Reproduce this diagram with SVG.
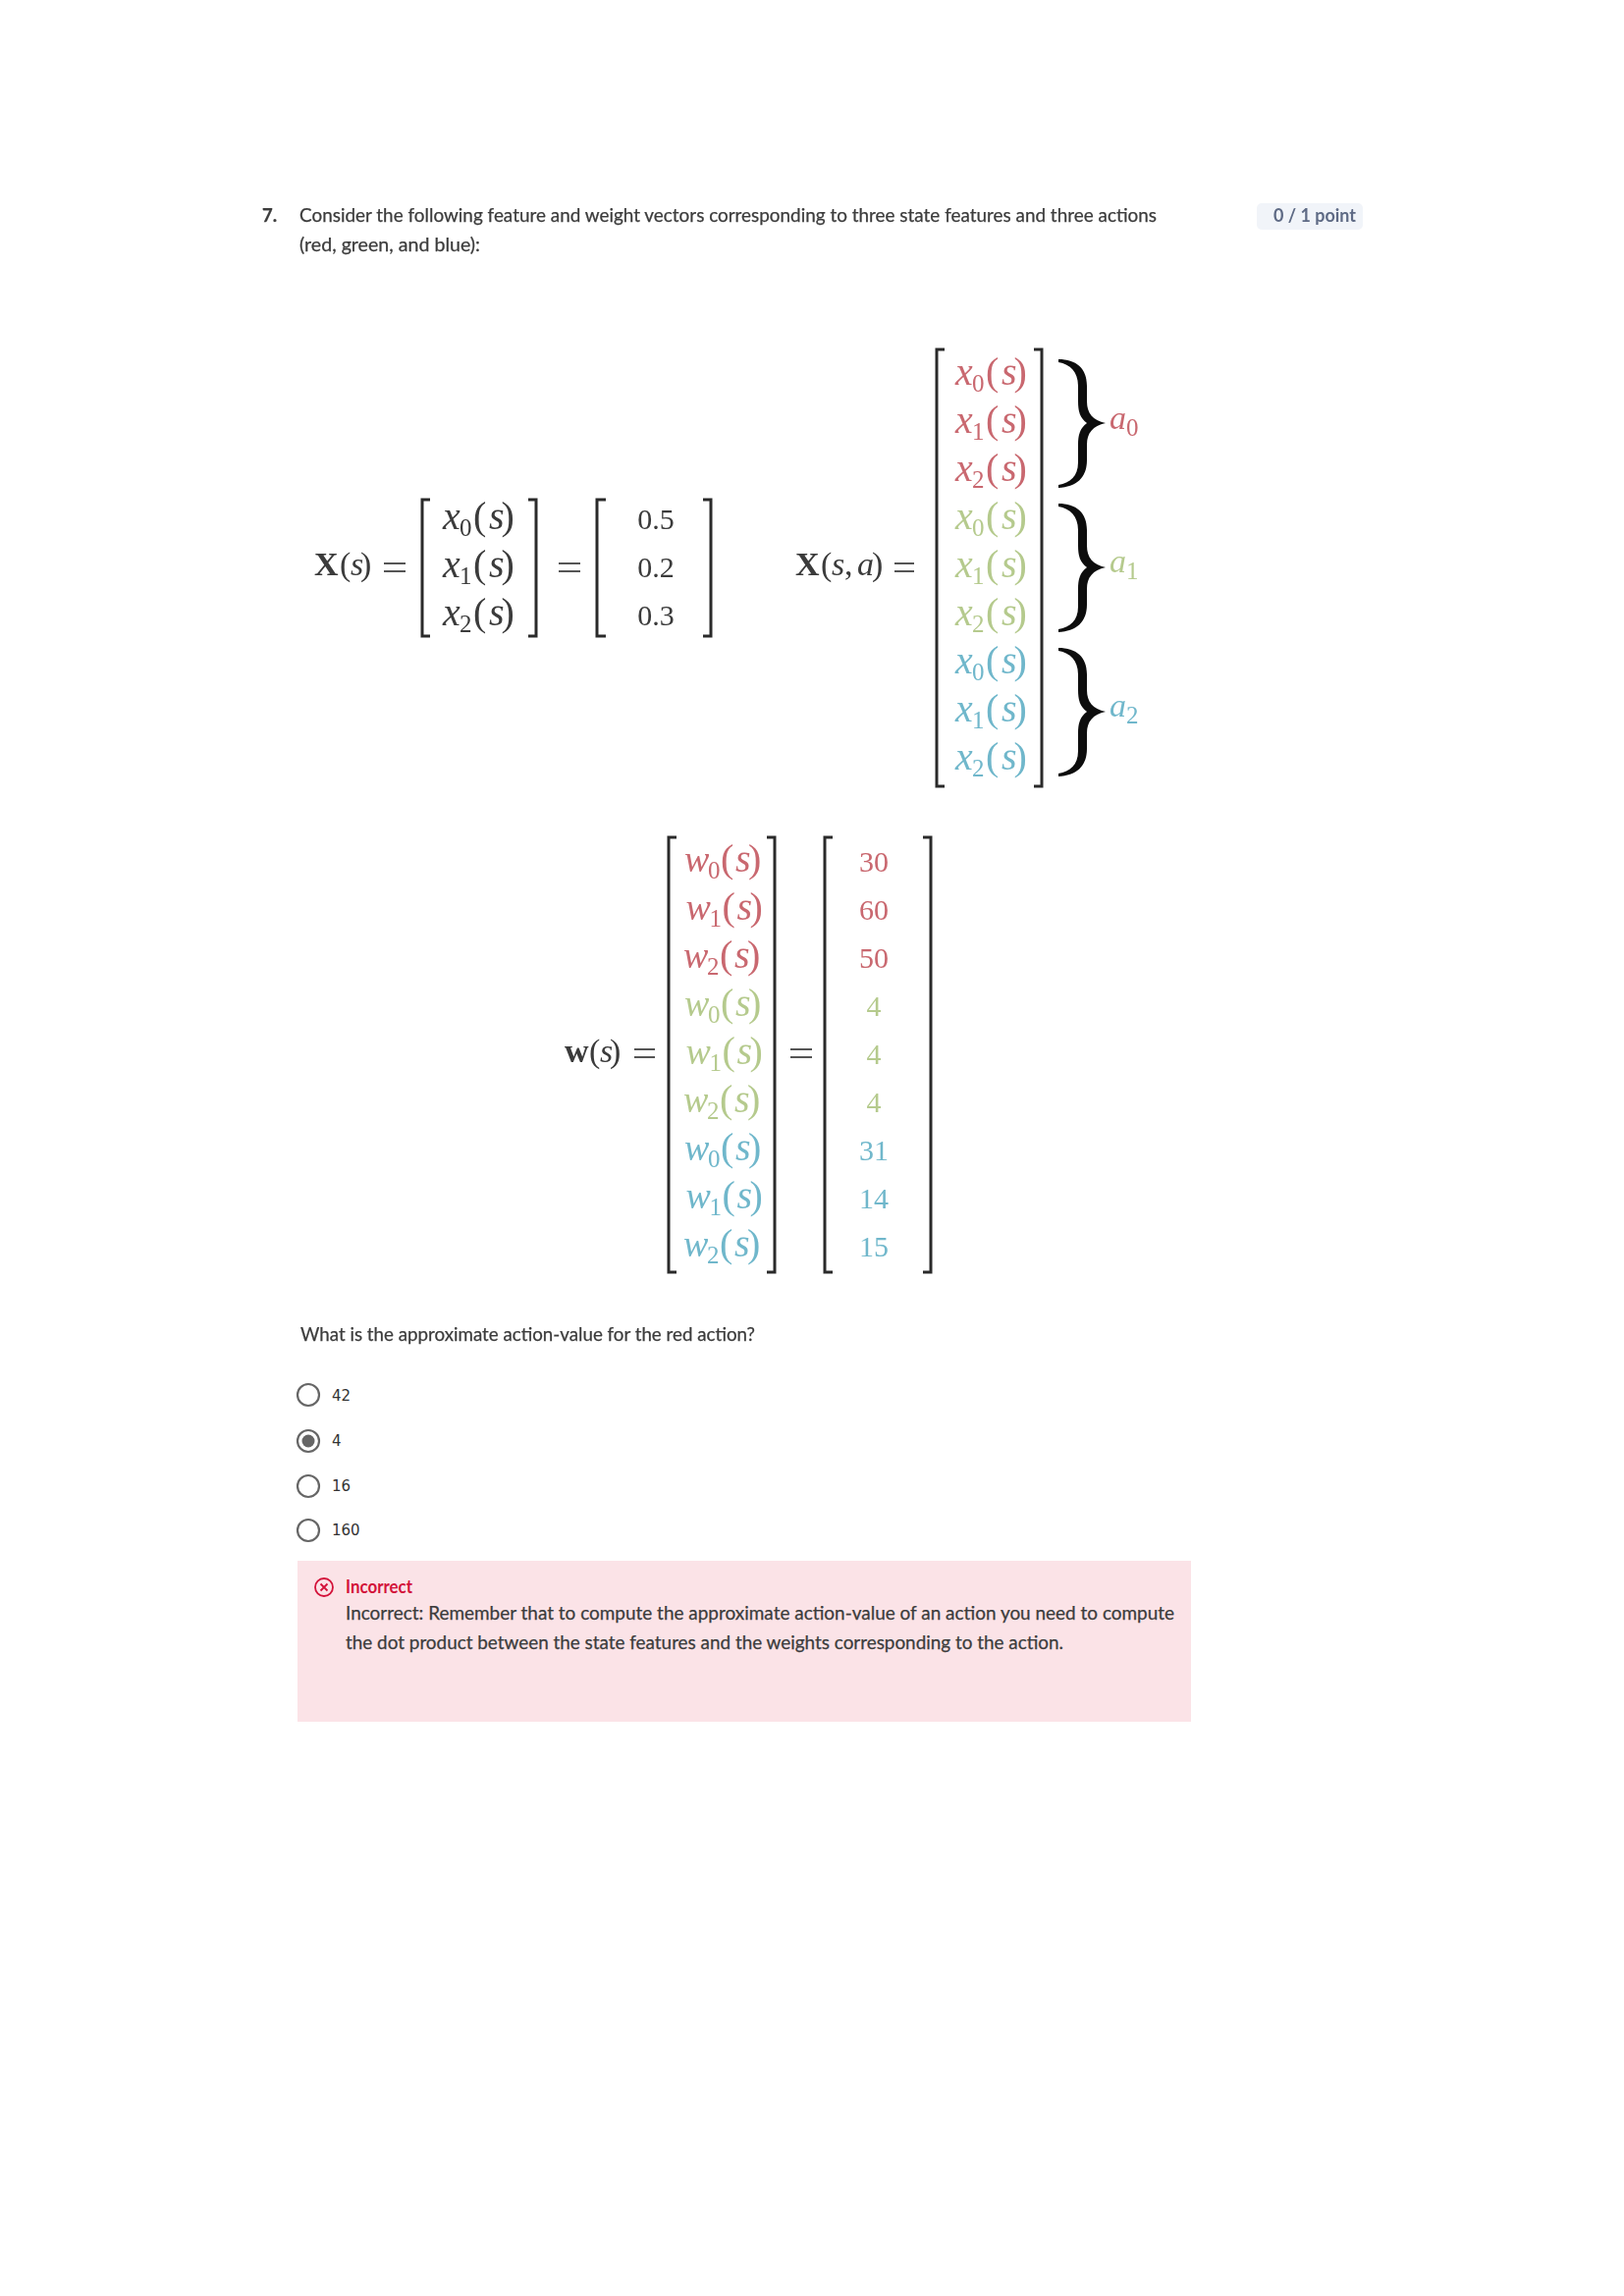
<svg xmlns="http://www.w3.org/2000/svg" width="1654" height="2339" viewBox="0 0 1654 2339">
<style>
.t{font-family:"Lato","Noto Sans",sans-serif;font-size:18.5px;fill:#3c3c3c;stroke:#3c3c3c;stroke-width:.25}
.o{font-family:"DejaVu Sans",sans-serif;font-size:15px;fill:#333}
.m{font-family:"Liberation Serif",serif;font-size:34px;fill:#3a3a3a}
.n{font-family:"Liberation Serif",serif;font-size:30px;text-anchor:middle}
.r{font-family:"Liberation Serif",serif;font-size:40px}
.i{font-style:italic}
.w{font-style:italic;font-size:38px}
.b{font-size:25px}
.bd{font-weight:bold}
.red{fill:#c9686f}.grn{fill:#b5ca8d}.blu{fill:#6fb7cb}.blk{fill:#3a3a3a}
.k{fill:none;stroke:#2b2b2b;stroke-width:3}
.eq{stroke:#555;stroke-width:2;fill:none}
.rad{fill:#fff;stroke:#666;stroke-width:2.2}
</style>
<defs>
<filter id="soft" x="-5%" y="-5%" width="110%" height="110%"><feGaussianBlur stdDeviation="0.5"/></filter>
<path id="brace" d="M0 0C18 0 29 9 29 27V43C29 55 35 62 48 65C35 68 29 75 29 87V103C29 121 18 130 0 131V128C12 126 20 119 20 105V87C20 77 22 70 29 65C22 60 20 53 20 43V27C20 13 12 5 0 3Z" fill="#111"/>
</defs>
<rect width="1654" height="2339" fill="#fff"/>
<g id="question" filter="url(#soft)">
<text class="t" x="267" y="226" style="font-weight:700">7.</text>
<text class="t" x="305" y="226" textLength="873" lengthAdjust="spacingAndGlyphs">Consider the following feature and weight vectors corresponding to three state features and three actions</text>
<text class="t" x="305" y="256" textLength="184" lengthAdjust="spacingAndGlyphs">(red, green, and blue):</text>
</g>
<g id="badge">
<rect x="1285" y="207" width="108" height="27" rx="5" fill="#f1f4f9" transform="translate(-5 0)"/>
<text class="t" x="1297" y="226" textLength="84" lengthAdjust="spacingAndGlyphs" style="fill:#5e6b85;stroke:none;font-weight:700" filter="url(#soft)">0 / 1 point</text>
</g>
<g id="eq-xs" filter="url(#soft)">
<text class="m"><tspan class="bd" x="320" y="586">X</tspan><tspan x="346">(</tspan><tspan class="i" x="357">s</tspan><tspan x="367">)</tspan></text>
<path class="eq" d="M391 574H413M391 582H413M569 574H591M569 582H591"/>
<path class="k" d="M438 509H430V648H438M538 509H546V648H538M617 509H608V648H617M716 509H724V648H716"/>
<g class="r blk">
<text y="539"><tspan class="i" x="451">x</tspan><tspan class="b" x="468" dy="7">0</tspan><tspan x="482" dy="-7">(</tspan><tspan class="i" x="498">s</tspan><tspan x="510.5">)</tspan></text>
<text y="588"><tspan class="i" x="451">x</tspan><tspan class="b" x="468" dy="7">1</tspan><tspan x="482" dy="-7">(</tspan><tspan class="i" x="498">s</tspan><tspan x="510.5">)</tspan></text>
<text y="637"><tspan class="i" x="451">x</tspan><tspan class="b" x="468" dy="7">2</tspan><tspan x="482" dy="-7">(</tspan><tspan class="i" x="498">s</tspan><tspan x="510.5">)</tspan></text>
</g>
<g class="n blk">
<text x="668" y="539">0.5</text><text x="668" y="588">0.2</text><text x="668" y="637">0.3</text>
</g>
</g>
<g id="eq-xsa" filter="url(#soft)">
<text class="m"><tspan class="bd" x="810" y="586">X</tspan><tspan x="836">(</tspan><tspan class="i" x="847">s</tspan><tspan x="860">,</tspan><tspan class="i" x="873">a</tspan><tspan x="888">)</tspan></text>
<path class="eq" d="M911 574H931M911 582H931"/>
<path class="k" d="M962 356H954V801H962M1053 356H1061V801H1053"/>
<g class="r red">
<text y="392"><tspan class="i" x="973">x</tspan><tspan class="b" x="990" dy="7">0</tspan><tspan x="1004" dy="-7">(</tspan><tspan class="i" x="1020">s</tspan><tspan x="1032.5">)</tspan></text>
<text y="441"><tspan class="i" x="973">x</tspan><tspan class="b" x="990" dy="7">1</tspan><tspan x="1004" dy="-7">(</tspan><tspan class="i" x="1020">s</tspan><tspan x="1032.5">)</tspan></text>
<text y="490"><tspan class="i" x="973">x</tspan><tspan class="b" x="990" dy="7">2</tspan><tspan x="1004" dy="-7">(</tspan><tspan class="i" x="1020">s</tspan><tspan x="1032.5">)</tspan></text>
</g>
<g class="r grn">
<text y="539"><tspan class="i" x="973">x</tspan><tspan class="b" x="990" dy="7">0</tspan><tspan x="1004" dy="-7">(</tspan><tspan class="i" x="1020">s</tspan><tspan x="1032.5">)</tspan></text>
<text y="588"><tspan class="i" x="973">x</tspan><tspan class="b" x="990" dy="7">1</tspan><tspan x="1004" dy="-7">(</tspan><tspan class="i" x="1020">s</tspan><tspan x="1032.5">)</tspan></text>
<text y="637"><tspan class="i" x="973">x</tspan><tspan class="b" x="990" dy="7">2</tspan><tspan x="1004" dy="-7">(</tspan><tspan class="i" x="1020">s</tspan><tspan x="1032.5">)</tspan></text>
</g>
<g class="r blu">
<text y="686"><tspan class="i" x="973">x</tspan><tspan class="b" x="990" dy="7">0</tspan><tspan x="1004" dy="-7">(</tspan><tspan class="i" x="1020">s</tspan><tspan x="1032.5">)</tspan></text>
<text y="735"><tspan class="i" x="973">x</tspan><tspan class="b" x="990" dy="7">1</tspan><tspan x="1004" dy="-7">(</tspan><tspan class="i" x="1020">s</tspan><tspan x="1032.5">)</tspan></text>
<text y="784"><tspan class="i" x="973">x</tspan><tspan class="b" x="990" dy="7">2</tspan><tspan x="1004" dy="-7">(</tspan><tspan class="i" x="1020">s</tspan><tspan x="1032.5">)</tspan></text>
</g>
<use href="#brace" x="1078" y="366"/>
<use href="#brace" x="1078" y="513"/>
<use href="#brace" x="1078" y="660"/>
<text class="r red" y="437"><tspan class="i" x="1130" style="font-size:34px">a</tspan><tspan class="b" x="1147" dy="7">0</tspan></text>
<text class="r grn" y="583"><tspan class="i" x="1130" style="font-size:34px">a</tspan><tspan class="b" x="1147" dy="7">1</tspan></text>
<text class="r blu" y="730"><tspan class="i" x="1130" style="font-size:34px">a</tspan><tspan class="b" x="1147" dy="7">2</tspan></text>
</g>
<g id="eq-ws" filter="url(#soft)">
<text class="m"><tspan class="bd" x="575" y="1082">w</tspan><tspan x="600">(</tspan><tspan class="i" x="611">s</tspan><tspan x="621">)</tspan></text>
<path class="eq" d="M646 1069H667M646 1077H667M805 1069H827M805 1077H827"/>
<path class="k" d="M689 853H681V1296H689M781 853H789V1296H781M848 853H840V1296H848M940 853H948V1296H940"/>
<g class="r red">
<text y="888"><tspan class="w" x="697">w</tspan><tspan class="b" x="721" dy="7">0</tspan><tspan x="734" dy="-7">(</tspan><tspan class="i" x="749">s</tspan><tspan x="762">)</tspan></text>
<text y="937"><tspan class="w" x="698.5">w</tspan><tspan class="b" x="722.5" dy="7">1</tspan><tspan x="735.5" dy="-7">(</tspan><tspan class="i" x="750.5">s</tspan><tspan x="763.5">)</tspan></text>
<text y="986"><tspan class="w" x="696">w</tspan><tspan class="b" x="720" dy="7">2</tspan><tspan x="733" dy="-7">(</tspan><tspan class="i" x="748">s</tspan><tspan x="761">)</tspan></text>
</g>
<g class="r grn">
<text y="1035"><tspan class="w" x="697">w</tspan><tspan class="b" x="721" dy="7">0</tspan><tspan x="734" dy="-7">(</tspan><tspan class="i" x="749">s</tspan><tspan x="762">)</tspan></text>
<text y="1084"><tspan class="w" x="698.5">w</tspan><tspan class="b" x="722.5" dy="7">1</tspan><tspan x="735.5" dy="-7">(</tspan><tspan class="i" x="750.5">s</tspan><tspan x="763.5">)</tspan></text>
<text y="1133"><tspan class="w" x="696">w</tspan><tspan class="b" x="720" dy="7">2</tspan><tspan x="733" dy="-7">(</tspan><tspan class="i" x="748">s</tspan><tspan x="761">)</tspan></text>
</g>
<g class="r blu">
<text y="1182"><tspan class="w" x="697">w</tspan><tspan class="b" x="721" dy="7">0</tspan><tspan x="734" dy="-7">(</tspan><tspan class="i" x="749">s</tspan><tspan x="762">)</tspan></text>
<text y="1231"><tspan class="w" x="698.5">w</tspan><tspan class="b" x="722.5" dy="7">1</tspan><tspan x="735.5" dy="-7">(</tspan><tspan class="i" x="750.5">s</tspan><tspan x="763.5">)</tspan></text>
<text y="1280"><tspan class="w" x="696">w</tspan><tspan class="b" x="720" dy="7">2</tspan><tspan x="733" dy="-7">(</tspan><tspan class="i" x="748">s</tspan><tspan x="761">)</tspan></text>
</g>
<g class="n">
<text class="red" x="890" y="888">30</text><text class="red" x="890" y="937">60</text><text class="red" x="890" y="986">50</text>
<text class="grn" x="890" y="1035">4</text><text class="grn" x="890" y="1084">4</text><text class="grn" x="890" y="1133">4</text>
<text class="blu" x="890" y="1182">31</text><text class="blu" x="890" y="1231">14</text><text class="blu" x="890" y="1280">15</text>
</g>
</g>
<g id="prompt" filter="url(#soft)">
<text class="t" x="306" y="1366" textLength="463" lengthAdjust="spacingAndGlyphs">What is the approximate action-value for the red action?</text>
</g>
<g id="opt-42"><circle class="rad" cx="314" cy="1421" r="11"/><text class="o" x="338" y="1427">42</text></g>
<g id="opt-4"><circle class="rad" cx="314" cy="1468" r="11"/><circle cx="314" cy="1468" r="6.5" fill="#666"/><text class="o" x="338" y="1473">4</text></g>
<g id="opt-16"><circle class="rad" cx="314" cy="1514" r="11"/><text class="o" x="338" y="1519">16</text></g>
<g id="opt-160"><circle class="rad" cx="314" cy="1559" r="11"/><text class="o" x="338" y="1564">160</text></g>
<g id="feedback">
<rect x="303" y="1590" width="910" height="164" fill="#fbe3e7"/>
<circle cx="330" cy="1617" r="9" fill="none" stroke="#d3123a" stroke-width="1.8"/>
<path d="M326.5 1613.5L333.5 1620.5M333.5 1613.5L326.5 1620.5" stroke="#d3123a" stroke-width="1.8" fill="none"/>
<text class="t" x="352" y="1623" textLength="68" lengthAdjust="spacingAndGlyphs" style="fill:#d3123a;stroke:none;font-weight:700">Incorrect</text>
<text class="t" x="352" y="1650" textLength="844" lengthAdjust="spacingAndGlyphs">Incorrect: Remember that to compute the approximate action-value of an action you need to compute</text>
<text class="t" x="352" y="1680" textLength="731" lengthAdjust="spacingAndGlyphs">the dot product between the state features and the weights corresponding to the action.</text>
</g>
</svg>
